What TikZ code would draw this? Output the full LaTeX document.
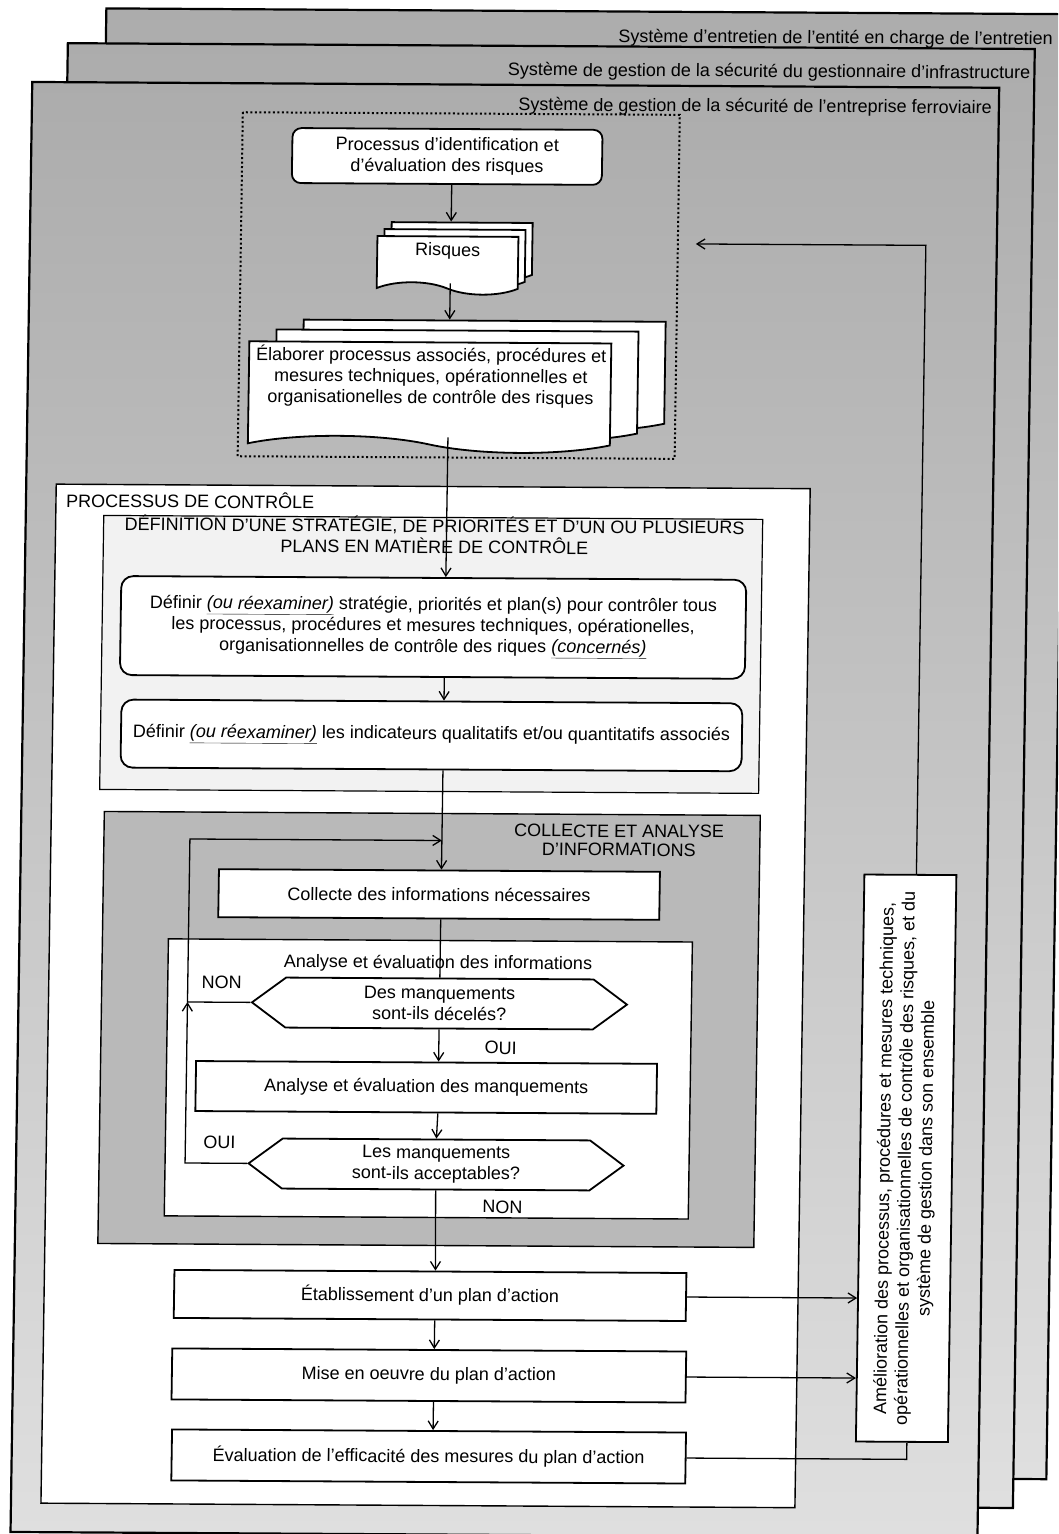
\documentclass[tikz,border=0pt]{standalone}
\usepackage{fontspec}
\setmainfont{Liberation Sans}
\usetikzlibrary{positioning, calc, shapes.symbols, arrows.meta}
\tikzset{%
  page/.style={draw, line width=2.2pt, top color=gray!65, bottom color=gray!25},
  page label/.style={anchor=east, inner sep=0pt},
  zone/.style={draw, line width=1.4pt},
  step box/.style={draw, line width=1.8pt, fill=white, align=center, inner sep=2pt},
  round box/.style={step box, rounded corners=12pt},
  document/.style={tape, tape bend top=none, tape bend bottom=out and in,
    draw, line width=1.8pt, fill=white, align=center, inner sep=0pt},
  decision/.style={signal, signal to=west and east, signal pointer angle=73,
    draw, line width=1.8pt, fill=white, align=center, inner sep=0pt},
  answer/.style={inner sep=1pt},
  link/.style={line width=1.3pt},
  move/.style={link, -{Straight Barb[length=8pt, width=10pt]}}
}

\begin{document}
\begin{tikzpicture}[x=1pt, y=-1pt, font=\fontsize{18}{21}\selectfont]
  \clip (0,0) rectangle (1058,1534);
  \begin{scope}[shift={(529,767)}, xslant=0.015, yslant=-0.006, shift={(-529,-767)}, transform shape]
  % safety management systems
  \draw[page] (95,11) rectangle (1057,1476);
  \node[page label] (ecmlabel) at (1042,37) {Système d'entretien de l'entité en charge de l'entretien};
  \draw[page] (57,46) rectangle (1024,1505);
  \node[page label] (imlabel) at (1020,71) {Système de gestion de la sécurité du gestionnaire d'infrastructure};
  \draw[page] (22,85) rectangle (989,1535);
  \node[page label] (rulabel) at (982,106) {Système de gestion de la sécurité de l'entreprise ferroviaire};

  % risk assessment
  \draw[line width=2pt, dash pattern=on 2pt off 2.5pt] (233,114) rectangle (670,458);
  \node[round box, rounded corners=9pt, minimum width=310, minimum height=55] (ident) at (438,157)
    {Processus d'identification et\\d'évaluation des risques};
  \node[document, minimum width=141, minimum height=58, tape bend height=12pt] (risk-3) at (454,246) {};
  \node[document, minimum width=141, minimum height=58, tape bend height=12pt] (risk-2) at (447,253) {};
  \node[document, minimum width=141, minimum height=58, tape bend height=12pt, text depth=20pt] (risk) at (440,260) {Risques};
  \node[document, minimum width=362, minimum height=110, tape bend height=16pt] (elab-3) at (478,368) {};
  \node[document, minimum width=362, minimum height=110, tape bend height=16pt] (elab-2) at (451,378) {};
  \node[document, minimum width=362, minimum height=110, tape bend height=16pt] (elab) at (424,390) {};
  \node[align=center] (elabtext) at (425,377)
    {Élaborer processus associés, procédures et\\mesures techniques, opérationnelles et\\organisationelles de contrôle des risques};

  % control process
  \draw[zone, fill=white] (52,487) rectangle (806,1506);
  \node[anchor=base west, inner sep=0pt] (ctrltitle) at (62,510) {PROCESSUS DE CONTRÔLE};
  \draw[zone, line width=1.2pt, fill=gray!10] (100,518) rectangle (759,792);
  \node[anchor=north, inner sep=0pt, align=center] (deftitle) at (431,517)
    {DÉFINITION D'UNE STRATÉGIE, DE PRIORITÉS ET D'UN OU PLUSIEURS\\PLANS EN MATIÈRE DE CONTRÔLE};
  \node[round box, minimum width=625, minimum height=99] (def1) at (431,628)
    {Définir \underline{\textit{(ou réexaminer)}} stratégie, priorités et plan(s) pour contrôler tous\\
     les processus, procédures et mesures techniques, opérationelles,\\
     organisationnelles de contrôle des riques \underline{\textit{(concernés)}}};
  \node[round box, minimum width=621, minimum height=68] (def2) at (431,736)
    {Définir \underline{\textit{(ou réexaminer)}} les indicateurs qualitatifs et/ou quantitatifs associés};

  \draw[zone, fill=gray!55] (105,814) rectangle (761,1246);
  \node[anchor=north, inner sep=0pt, align=center, font=\fontsize{18}{18.5}\selectfont] (colltitle) at (620,824)
    {COLLECTE ET ANALYSE\\D'INFORMATIONS};
  \node[step box, minimum width=441, minimum height=48] (coll) at (441,895) {Collecte des informations nécessaires};
  \draw[zone, fill=white] (171,941) rectangle (695,1218);
  \node[anchor=base] (analtitle) at (441,969) {Analyse et évaluation des informations};
  \node[decision, minimum width=375, minimum height=50] (dec1) at (443,1004) {Des manquements\\sont-ils décelés?};
  \node[answer] (non1) at (225,984) {NON};
  \node[step box, minimum width=461, minimum height=50] (manq) at (431,1088) {Analyse et évaluation des manquements};
  \node[answer] (oui1) at (505,1048) {OUI};
  \node[decision, minimum width=375, minimum height=50] (dec2) at (442,1165) {Les manquements\\sont-ils acceptables?};
  \node[answer] (oui2) at (225,1144) {OUI};
  \node[answer] (non2) at (509,1207) {NON};

  % action plan
  \node[step box, minimum width=512, minimum height=48] (plan) at (438,1296) {Établissement d'un plan d'action};
  \node[step box, minimum width=514, minimum height=51] (mise) at (438,1376) {Mise en oeuvre du plan d'action};
  \node[step box, minimum width=514, minimum height=51] (effic) at (439,1457) {Évaluation de l'efficacité des mesures du plan d'action};
  \node[step box, rotate=90, minimum width=567, minimum height=92] (improve) at (912,1156)
    {Amélioration des processus, procédures et mesures techniques,\\
     opérationnelles et organisationnelles de contrôle des risques, et du\\
     système de gestion dans son ensemble};

  % connectors
  \coordinate (loopx) at (191,1004);
  \coordinate (loopin) at (443,841);
  \coordinate (riskin) at (688,243);
  \draw[move] ([xshift=5pt]ident.south) -- ([xshift=-11pt]risk-3.north);
  \draw[move] ([xshift=3pt]risk.south) -- ([xshift=-35pt]elab-3.north);
  \draw[move] ([xshift=19pt]elab.south) -- ([xshift=12pt]def1.north);
  \draw[move] ([xshift=12pt]def1.south) -- ([xshift=12pt]def2.north);
  \draw[move] ([xshift=12pt]def2.south) -- ([xshift=2pt]coll.north);
  \draw[link] ([xshift=2pt]coll.south) -- (dec1.north);
  \draw[move] (dec1.south) -- ([xshift=12pt]manq.north);
  \draw[move] ([xshift=12pt]manq.south) -- (dec2.north);
  \draw[move] (dec2.south) -- ([xshift=5pt]plan.north);
  \draw[move] ([xshift=5pt]plan.south) -- ([xshift=5pt]mise.north);
  \draw[move] ([xshift=5pt]mise.south) -- ([xshift=4pt]effic.north);
  \draw[move] (dec2.west) -| (loopx);
  \draw[move] (dec1.west) -- (loopx) |- (loopin);
  \draw[move] (plan.east) -- (plan.east -| improve.north);
  \draw[move] (mise.east) -- (mise.east -| improve.north);
  \draw[link] (effic.east) -| ([xshift=5pt]improve.west);
  \draw[move] ([xshift=6pt]improve.east) |- (riskin);
  \end{scope}
\end{tikzpicture}
\end{document}
